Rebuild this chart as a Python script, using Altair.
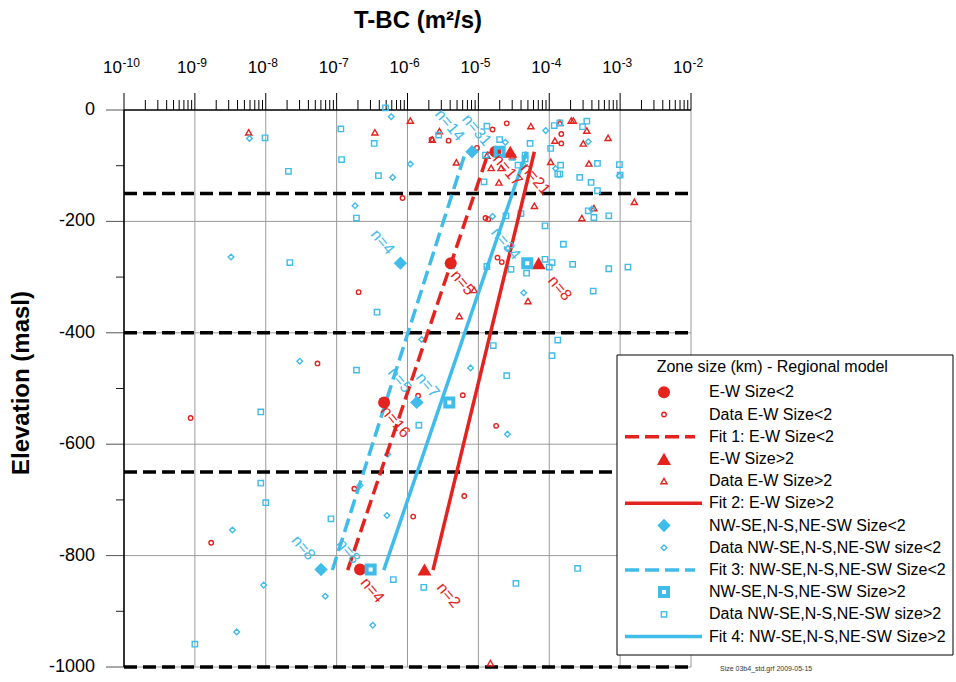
import altair as alt
import pandas as pd

RED = "#E4221E"
CYAN = "#3FBCEA"
FONT = "Liberation Sans"
W, H = 567, 557

# ---------------- axis values ----------------
decade_exponents = [-10, -9, -8, -7, -6, -5, -4, -3, -2]
exponent_labels = ["-10", "-9", "-8", "-7", "-6", "-5", "-4", "-3", "-2"]
elev_labels = [0, -200, -400, -600, -800, -1000]
elev_label_text = ["0", "-200", "-400", "-600", "-800", "-1000"]
elev_minor = [-100, -300, -500, -700, -900]
zone_boundaries = [-150, -400, -650, -1000]

# ---------------- data (log10 of T-BC, elevation masl) ----------------
ew_lt2_logT = [-5.66, -5.42, -4.80, -4.60, -5.02, -3.83, -3.83, -6.07, -4.86, -4.90, -4.73, -4.67,
               -6.69, -7.27, -9.06, -5.85, -5.84, -5.22, -4.75, -6.75, -5.92, -5.20, -8.77]
ew_lt2_elev = [-53, -55, -35, -24, -68, -43, -60, -158, -196, -194, -265, -273,
               -327, -455, -553, -513, -525, -512, -567, -680, -730, -693, -777]

ew_gt2_logT = [-8.24, -6.46, -5.96, -5.55, -5.65, -4.26, -3.69, -3.66, -3.85, -3.47, -3.17, -3.92,
               -3.52, -5.31, -4.82, -4.68, -4.71, -3.98, -3.44, -2.80, -4.21, -3.54, -3.37, -5.06,
               -4.30, -5.27, -4.83, -4.88, -4.52]
ew_gt2_elev = [-40, -40, -19, -38, -53, -29, -19, -19, -23, -37, -50, -55,
               -60, -94, -104, -104, -130, -93, -96, -165, -172, -194, -176, -323,
               -343, -370, -993, -82, -83]

nw_lt2_logT = [-8.23, -6.23, -5.96, -6.21, -6.74, -8.49, -4.62, -4.05, -3.45, -3.91, -3.01, -4.80,
               -4.58, -4.36, -3.40, -5.80, -7.52, -5.11, -4.59, -5.83, -6.28, -6.67, -6.29, -8.47,
               -8.03, -7.16, -8.41, -6.49, -4.37]
nw_lt2_elev = [-51, -12, -97, -121, -172, -264, -58, -37, -57, -105, -118, -191,
               -248, -328, -178, -412, -451, -463, -582, -525, -618, -674, -728, -754,
               -853, -873, -937, -925, -98]

nw_gt2_logT = [-8.01, -7.68, -6.94, -6.93, -6.47, -6.41, -6.31, -6.72, -7.66, -6.43, -5.56, -4.88,
               -4.70, -4.90, -4.92, -4.52, -4.27, -4.34, -4.34, -4.44, -4.61, -4.40, -4.88, -4.54,
               -4.32, -4.06, -3.96, -4.00, -4.06, -3.80, -3.67, -3.38, -3.16, -2.89, -3.16, -3.37,
               -3.45, -3.32, -3.41, -3.57, -3.32, -3.01, -3.00, -3.84, -3.88, -3.85, -3.98, -3.93,
               -3.85, -3.53, -3.47, -3.88, -4.79, -6.72, -8.07, -5.84, -3.96, -4.60, -8.07, -8.00,
               -7.08, -6.20, -5.77, -4.47, -3.60, -9.00, -5.38]
nw_gt2_elev = [-50, -110, -34, -89, -60, -118, 4, -194, -274, -363, -45, -29,
               -53, -81, -129, -85, -60, -81, -88, -99, -190, -186, -281, -286,
               -293, -268, -274, -282, -208, -241, -277, -325, -285, -282, -190, -193,
               -181, -145, -130, -121, -96, -98, -117, -99, -115, -115, -69, -28,
               -23, -30, -20, -413, -423, -467, -542, -566, -441, -477, -670, -705,
               -734, -843, -857, -850, -823, -959, -280]

# zone means (large symbols)
ew_lt2_mean_logT = [-4.76, -5.39, -6.33, -6.67]
ew_lt2_mean_elev = [-75, -275, -525, -825]
ew_gt2_mean_logT = [-4.55, -4.15, -5.76]
ew_gt2_mean_elev = [-75, -275, -825]
nw_lt2_mean_logT = [-5.09, -6.10, -5.87, -7.22]
nw_lt2_mean_elev = [-75, -275, -525, -825]
nw_gt2_mean_logT = [-4.70, -4.31, -5.41, -6.52]
nw_gt2_mean_elev = [-75, -275, -525, -825]

# fits (end points)
fit_elev = [-75, -826]
fit1_logT = [-4.855, -6.844]
fit2_logT = [-4.21, -5.64]
fit3_logT = [-5.18, -7.06]
fit4_logT = [-4.32, -6.335]

# n labels
red_n_text = ["n=17", "n=21", "n=5", "n=8", "n=16", "n=4", "n=2"]
red_n_logT = [-4.587, -4.191, -5.223, -3.852, -6.170, -6.495, -5.420]
red_n_elev = [-108, -124, -310, -320, -560, -862, -871]
cyan_n_text = ["n=14", "n=31", "n=34", "n=4", "n=5", "n=7", "n=8", "n=8"]
cyan_n_logT = [-5.406, -5.025, -4.615, -6.353, -6.113, -5.717, -7.470, -6.834]
cyan_n_elev = [-27, -36, -240, -237, -485, -494, -786, -792]

legend_title = "Zone size (km) - Regional model"
legend_labels = ["E-W Size<2", "Data E-W Size<2", "Fit 1: E-W Size<2",
                 "E-W Size>2", "Data E-W Size>2", "Fit 2: E-W Size>2",
                 "NW-SE,N-S,NE-SW Size<2", "Data NW-SE,N-S,NE-SW size<2", "Fit 3: NW-SE,N-S,NE-SW Size<2",
                 "NW-SE,N-S,NE-SW Size>2", "Data NW-SE,N-S,NE-SW size>2", "Fit 4: NW-SE,N-S,NE-SW Size>2"]
x_title = "T-BC (m²/s)"
y_title = "Elevation (masl)"
footnote = "Size 03b4_std.grf   2009-05-15"

# ---------------- helpers ----------------
xscale = alt.Scale(type="log", domain=[1e-10, 1e-2], nice=False)
yscale = alt.Scale(domain=[-1000, 0], nice=False, zero=False)


def X(f="T"):
    return alt.X(f"{f}:Q", scale=xscale, axis=None)


def Y(f="E"):
    return alt.Y(f"{f}:Q", scale=yscale, axis=None)


def frame(logt, elev, extra=None):
    d = {"T": [10.0 ** v for v in logt], "E": elev}
    if extra:
        d.update(extra)
    return pd.DataFrame(d)


dummy = pd.DataFrame({"a": [0]})
layers = []

# grid
layers.append(alt.Chart(pd.DataFrame({"T": [10.0 ** e for e in decade_exponents[1:]]})).mark_rule(
    color="#9a9a9a", strokeWidth=1).encode(x=X(), y=alt.value(0), y2=alt.value(H)))
layers.append(alt.Chart(pd.DataFrame({"E": elev_labels[1:]})).mark_rule(
    color="#9a9a9a", strokeWidth=1).encode(y=Y(), x=alt.value(0), x2=alt.value(W)))

# y ticks + labels
layers.append(alt.Chart(pd.DataFrame({"E": elev_labels})).mark_rule(color="#555", strokeWidth=1).encode(
    y=Y(), x=alt.value(-18), x2=alt.value(0)))
layers.append(alt.Chart(pd.DataFrame({"E": elev_minor})).mark_rule(color="#222", strokeWidth=1).encode(
    y=Y(), x=alt.value(-8), x2=alt.value(0)))
layers.append(alt.Chart(pd.DataFrame({"E": elev_labels, "lab": elev_label_text})).mark_text(
    align="right", baseline="middle", fontSize=18, font=FONT, color="black").encode(
    y=Y(), x=alt.value(-29), text="lab:N"))

# top ticks
layers.append(alt.Chart(pd.DataFrame({"T": [10.0 ** e for e in decade_exponents]})).mark_rule(
    color="black", strokeWidth=1).encode(x=X(), y=alt.value(-17), y2=alt.value(0)))
minor_T = [k * 10.0 ** e for e in decade_exponents[:-1] for k in range(2, 10)]
layers.append(alt.Chart(pd.DataFrame({"T": minor_T})).mark_rule(color="black", strokeWidth=1).encode(
    x=X(), y=alt.value(-10), y2=alt.value(0)))

# axis lines
layers.append(alt.Chart(dummy).mark_rule(color="black", strokeWidth=1.6).encode(
    x=alt.value(0), x2=alt.value(W), y=alt.value(0)))
layers.append(alt.Chart(dummy).mark_rule(color="black", strokeWidth=1.6).encode(
    x=alt.value(0), y=alt.value(0), y2=alt.value(H)))

# top tick labels 10^n
lab = pd.DataFrame({"T": [10.0 ** e for e in decade_exponents], "exp": exponent_labels})
labA = lab.iloc[:1]
labB = lab.iloc[1:]
for d, dx10, dxe in [(labA, -2, -1.5), (labB, 1, 1.5)]:
    layers.append(alt.Chart(d).mark_text(align="right", baseline="alphabetic", dx=dx10, fontSize=17,
                                         font=FONT, color="black").encode(
        x=X(), y=alt.value(-37), text=alt.value("10")))
    layers.append(alt.Chart(d).mark_text(align="left", baseline="alphabetic", dx=dxe, fontSize=12,
                                         font=FONT, color="black").encode(
        x=X(), y=alt.value(-43), text="exp:N"))

# titles
layers.append(alt.Chart(dummy).mark_text(align="center", baseline="alphabetic", fontSize=24, fontWeight="bold",
                                         font=FONT, color="black").encode(
    x=alt.value(294), y=alt.value(-82), text=alt.value(x_title)))
layers.append(alt.Chart(dummy).mark_text(align="center", baseline="middle", angle=270, fontSize=24,
                                         fontWeight="bold", font=FONT, color="black").encode(
    x=alt.value(-102), y=alt.value(273), text=alt.value(y_title)))

# zone boundaries
layers.append(alt.Chart(pd.DataFrame({"E": zone_boundaries})).mark_rule(
    color="black", strokeWidth=3.5, strokeDash=[13, 6]).encode(y=Y(), x=alt.value(0), x2=alt.value(W)))


def small(logt, elev, shape, color, size, sw=1.4):
    return alt.Chart(frame(logt, elev)).mark_point(shape=shape, filled=False, color=color, size=size,
                                                   strokeWidth=sw, opacity=1).encode(x=X(), y=Y())


def big(logt, elev, shape, color, size, filled=True, sw=1):
    return alt.Chart(frame(logt, elev)).mark_point(shape=shape, filled=filled, color=color, size=size,
                                                   strokeWidth=sw, opacity=1).encode(x=X(), y=Y())


def fit(logt, color, dashed):
    kw = dict(color=color, strokeWidth=3.5)
    if dashed:
        kw["strokeDash"] = [14, 6]
    return alt.Chart(frame(logt, fit_elev)).mark_line(**kw).encode(x=X(), y=Y())


# small data points
layers.append(small(ew_lt2_logT, ew_lt2_elev, "circle", RED, 20))
layers.append(small(ew_gt2_logT, ew_gt2_elev, "triangle-up", RED, 38))
layers.append(small(nw_lt2_logT, nw_lt2_elev, "diamond", CYAN, 32))
layers.append(small(nw_gt2_logT, nw_gt2_elev, "square", CYAN, 29))

# fits
layers.append(fit(fit1_logT, RED, True))
layers.append(fit(fit2_logT, RED, False))
layers.append(fit(fit3_logT, CYAN, True))
layers.append(fit(fit4_logT, CYAN, False))

# zone means
layers.append(big(ew_lt2_mean_logT, ew_lt2_mean_elev, "circle", RED, 144))
layers.append(big(ew_gt2_mean_logT, ew_gt2_mean_elev, "triangle-up", RED, 196))
layers.append(big(nw_lt2_mean_logT, nw_lt2_mean_elev, "diamond", CYAN, 177))
layers.append(big(nw_gt2_mean_logT, nw_gt2_mean_elev, "square", CYAN, 64, filled=False, sw=4))

# n labels
for txt, lt, el, col in [(red_n_text, red_n_logT, red_n_elev, RED), (cyan_n_text, cyan_n_logT, cyan_n_elev, CYAN)]:
    layers.append(alt.Chart(frame(lt, el, {"lab": txt})).mark_text(
        angle=50, fontSize=16, font=FONT, color=col, align="center", baseline="middle").encode(
        x=X(), y=Y(), text="lab:N"))

# ---------------- legend ----------------
layers.append(alt.Chart(dummy).mark_rect(fill="white", stroke="black", strokeWidth=1).encode(
    x=alt.value(493), x2=alt.value(829), y=alt.value(245), y2=alt.value(545)))
layers.append(alt.Chart(dummy).mark_text(align="left", baseline="middle", fontSize=16, font=FONT,
                                         color="black").encode(
    x=alt.value(532.7), y=alt.value(257.3), text=alt.value(legend_title)))

row_y = [282.3 + 22.2 * i for i in range(len(legend_labels))]
sym_x = 540
legend_syms = [
    ("point", dict(shape="circle", filled=True, color=RED, size=144)),
    ("point", dict(shape="circle", filled=False, color=RED, size=20, strokeWidth=1.4)),
    ("line", dict(color=RED, strokeDash=[14, 6], x2=571)),
    ("point", dict(shape="triangle-up", filled=True, color=RED, size=196)),
    ("point", dict(shape="triangle-up", filled=False, color=RED, size=38, strokeWidth=1.4)),
    ("line", dict(color=RED, x2=578)),
    ("point", dict(shape="diamond", filled=True, color=CYAN, size=177)),
    ("point", dict(shape="diamond", filled=False, color=CYAN, size=32, strokeWidth=1.4)),
    ("line", dict(color=CYAN, strokeDash=[14, 6], x2=571)),
    ("point", dict(shape="square", filled=False, color=CYAN, size=64, strokeWidth=4)),
    ("point", dict(shape="square", filled=False, color=CYAN, size=29, strokeWidth=1.4)),
    ("line", dict(color=CYAN, x2=578)),
]
for (kind, kw), y, label in zip(legend_syms, row_y, legend_labels):
    if kind == "point":
        layers.append(alt.Chart(dummy).mark_point(opacity=1, **kw).encode(x=alt.value(sym_x), y=alt.value(y)))
    else:
        x2 = kw.pop("x2")
        layers.append(alt.Chart(dummy).mark_rule(strokeWidth=3.5, **kw).encode(
            x=alt.value(501), x2=alt.value(x2), y=alt.value(y)))
    layers.append(alt.Chart(dummy).mark_text(align="left", baseline="middle", fontSize=16, font=FONT,
                                             color="black").encode(
        x=alt.value(585), y=alt.value(y), text=alt.value(label)))

layers.append(alt.Chart(dummy).mark_text(align="left", baseline="middle", fontSize=7, font=FONT,
                                         color="#333").encode(
    x=alt.value(596), y=alt.value(559), text=alt.value(footnote)))

chart = alt.layer(*layers).properties(
    width=W, height=H,
    autosize=alt.AutoSizeParams(type="none"),
    padding={"left": 124, "top": 110, "right": 265, "bottom": 15},
    background="white",
).configure_view(stroke=None)

chart.save("out.html", embed_options={"renderer": "svg", "actions": False})
